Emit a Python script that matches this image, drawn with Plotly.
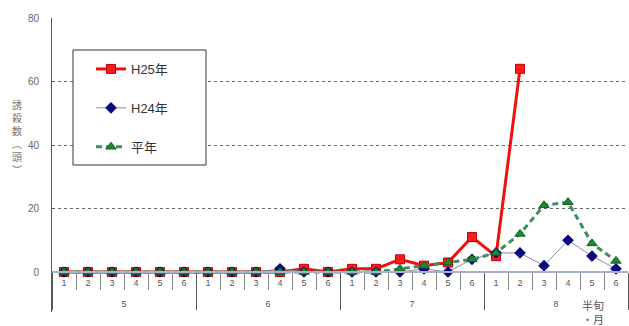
import plotly.graph_objects as go

# half-month periods (半旬) for May–August
months = ["5"] * 6 + ["6"] * 6 + ["7"] * 6 + ["8"] * 6
halves = ["1", "2", "3", "4", "5", "6"] * 4

# trap counts (誘殺数, 頭)
h25 = [0, 0, 0, 0, 0, 0,
       0, 0, 0, 0, 1, 0,
       1, 1, 4, 2, 3, 11,
       5, 64, None, None, None, None]
h24 = [0, 0, 0, 0, 0, 0,
       0, 0, 0, 1, 0, 0,
       0, 0, 0, 1, 0, 4,
       6, 6, 2, 10, 5, 1]
normal = [0, 0, 0, 0, 0, 0,
          0, 0, 0, 0, 0, 0,
          0, 0, 1, 2, 3, 4,
          6, 12, 21, 22, 9, 3.5]

# month labels sit one line lower than the half-month numbers
x = [["<br>" + m for m in months], halves]

W, H = 629, 326
L, R, T, B = 52, 1, 18, 14
plot_w = W - L - R
plot_h = H - T - B
y_min, y_max = -12.6, 80
zero_frac = (0 - y_min) / (y_max - y_min)


def px_x(px):
    return (px - L) / plot_w


def px_y(py):
    return (H - B - py) / plot_h


fig = go.Figure()
fig.add_trace(go.Scatter(
    x=x, y=h25, name="H25年", mode="lines+markers", legendgroup="a",
    line=dict(color="#f01010", width=3),
    marker=dict(symbol="square", size=9, color="#ff1a1a",
                line=dict(color="#c00000", width=1)),
))
fig.add_trace(go.Scatter(
    x=x, y=h24, name="H24年", mode="lines+markers", legendgroup="b",
    line=dict(color="#8a8aa8", width=1),
    marker=dict(symbol="diamond", size=9, color="#0a0a80"),
))
fig.add_trace(go.Scatter(
    x=x, y=normal, name="平年", mode="lines+markers", legendgroup="c",
    line=dict(color="#3a9060", width=3, dash="6px,4px"),
    marker=dict(symbol="triangle-up", size=9, color="#1a8a30",
                line=dict(color="#106020", width=1)),
))

# legend frame
lx0, lx1, ly0, ly1 = 73, 206, 50, 165
fig.add_shape(
    type="rect", xref="paper", yref="paper", layer="above",
    x0=px_x(lx0), x1=px_x(lx1), y0=px_y(ly1), y1=px_y(ly0),
    line=dict(color="#333333", width=1), fillcolor="white",
)

# y-axis title, written vertically
fig.add_annotation(
    xref="paper", yref="paper", x=px_x(17), y=px_y(137),
    text="誘<br>殺<br>数<br>︵<br>頭<br>︶", showarrow=False,
    font=dict(size=10, color="#777777"), xanchor="center", yanchor="middle",
)
# x-axis unit label
fig.add_annotation(
    xref="paper", yref="paper", x=px_x(593), y=px_y(312),
    text="半旬<br>・月", showarrow=False,
    font=dict(size=11, color="#555555"), xanchor="center", yanchor="middle",
)

fig.update_layout(
    width=W, height=H,
    margin=dict(l=L, r=R, t=T, b=B, pad=0),
    paper_bgcolor="white", plot_bgcolor="white",
    font=dict(family="Liberation Sans, Noto Sans CJK JP", color="#555555"),
    showlegend=True,
    legend=dict(
        x=px_x(lx0 + 18), y=px_y(ly0 + 4),
        xanchor="left", yanchor="top",
        bgcolor="rgba(0,0,0,0)", borderwidth=0,
        font=dict(size=13, color="#333333", family="Liberation Sans, Noto Sans CJK JP"),
        tracegroupgap=19, itemwidth=30,
    ),
)
fig.update_xaxes(
    type="multicategory", anchor="free", position=zero_frac,
    range=[-0.5, 23.5], autorange=False,
    showline=True, linecolor="#a8b0cc", linewidth=1.5,
    ticks="outside", ticklen=17, tickcolor="#888888", tickson="boundaries",
    dividercolor="#555555", dividerwidth=1,
    tickfont=dict(size=9, color="#555555"),
    ticklabelstandoff=2,
    showgrid=False, zeroline=False,
)
fig.update_yaxes(
    range=[y_min, y_max], tickvals=[0, 20, 40, 60, 80],
    showline=True, linecolor="#555555", linewidth=1,
    showgrid=True, gridcolor="#666666", griddash="dot", gridwidth=1,
    zeroline=True, zerolinecolor="#a8b0cc", zerolinewidth=1.5,
    ticks="", ticklabelstandoff=10,
    tickfont=dict(size=10, color="#666666"),
)

fig.write_html("out.html")
